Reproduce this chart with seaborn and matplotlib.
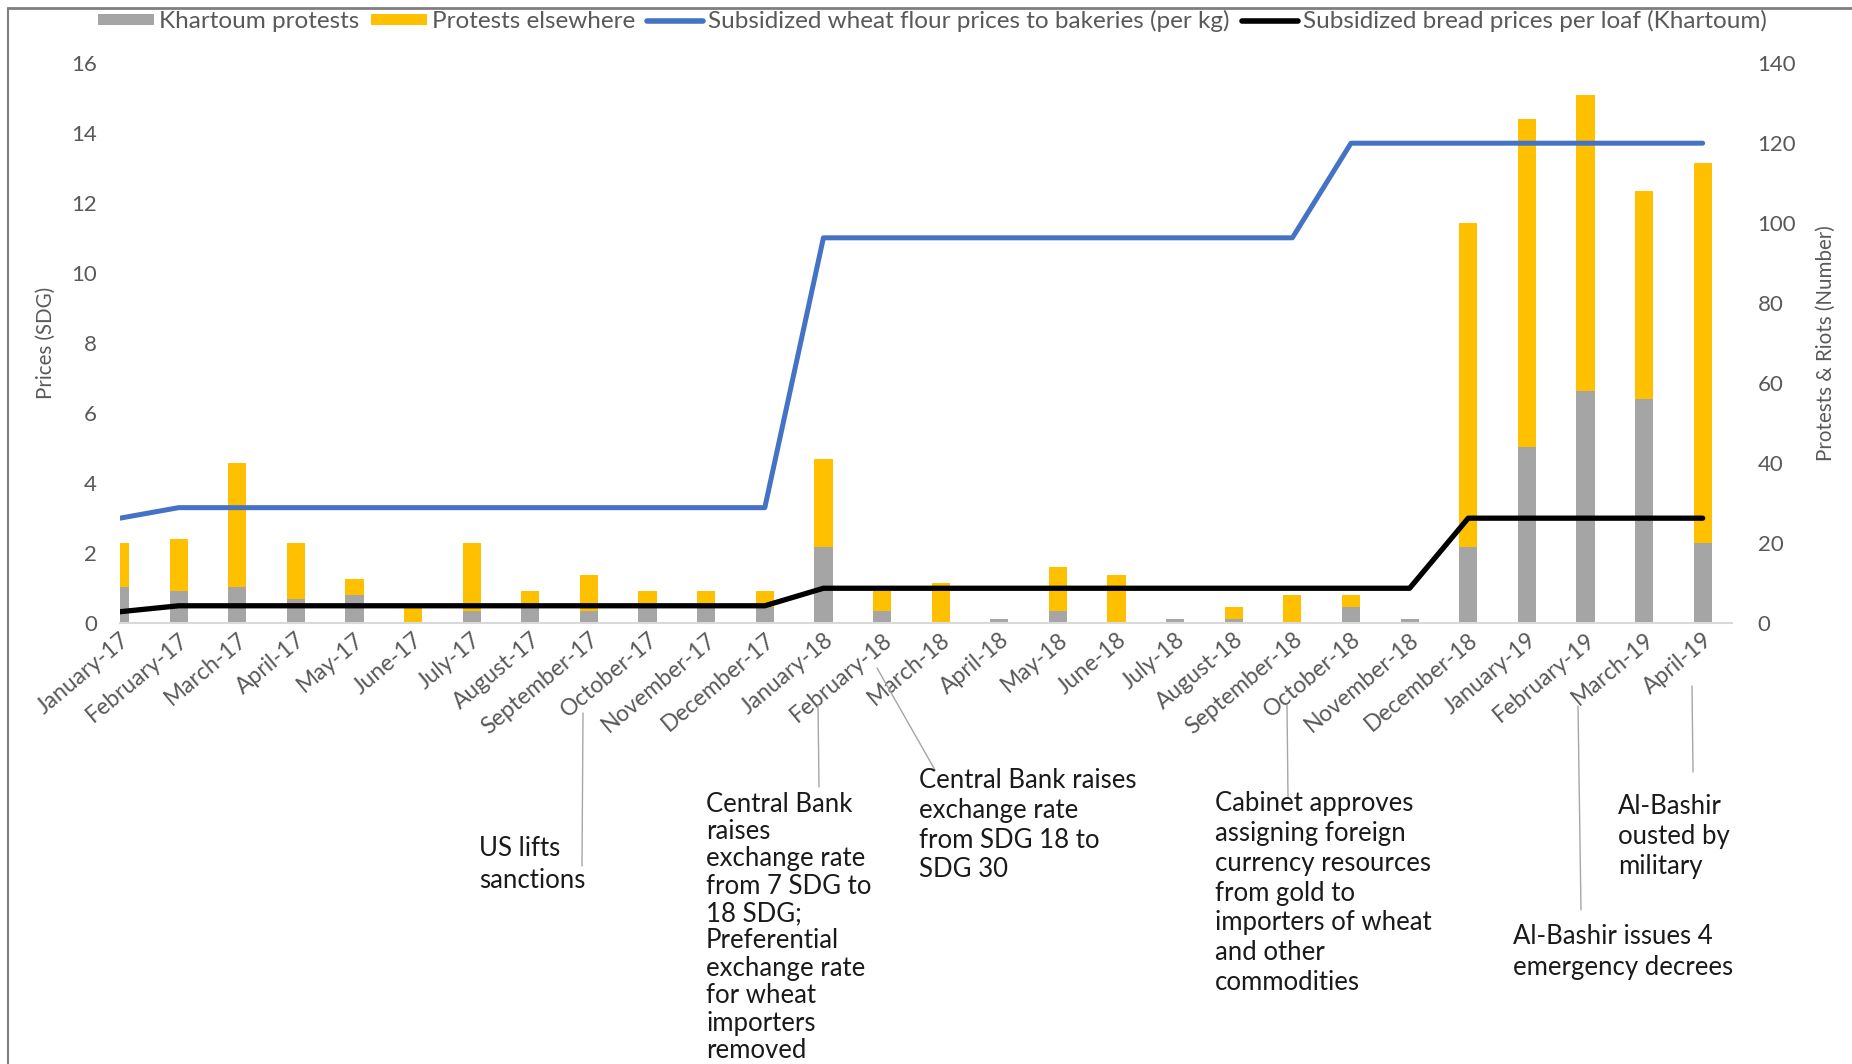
import numpy as np
import pandas as pd
import matplotlib
matplotlib.use("Agg")
import matplotlib.pyplot as plt
from matplotlib.lines import Line2D
from matplotlib.patches import Patch
import seaborn as sns

# ---- data -------------------------------------------------------------
months = [
    "January-17", "February-17", "March-17", "April-17", "May-17", "June-17",
    "July-17", "August-17", "September-17", "October-17", "November-17",
    "December-17", "January-18", "February-18", "March-18", "April-18",
    "May-18", "June-18", "July-18", "August-18", "September-18",
    "October-18", "November-18", "December-18", "January-19", "February-19",
    "March-19", "April-19",
]
khartoum_protests = [9, 8, 9, 6, 7, 0, 3, 4, 3, 4, 4, 4, 19, 3, 0, 1, 3, 0,
                     1, 1, 0, 4, 1, 19, 44, 58, 56, 20]
protests_elsewhere = [11, 13, 31, 14, 4, 4, 17, 4, 9, 4, 4, 4, 22, 5, 10, 0,
                      11, 12, 0, 3, 7, 3, 0, 81, 82, 74, 52, 95]
flour_price = [3.0] + [3.3] * 11 + [11.0] * 9 + [13.7] * 7
bread_price = [0.33] + [0.5] * 11 + [1.0] * 11 + [3.0] * 5

left_ticks = list(range(0, 17, 2))
right_ticks = list(range(0, 141, 20))

events = [
    (["US lifts", "sanctions"], (479, 849, 31), ((583, 713), (582, 866))),
    (["Central Bank", "raises", "exchange rate", "from 7 SDG to", "18 SDG;",
      "Preferential", "exchange rate", "for wheat", "importers", "removed"],
     (706, 804, 27.4), ((818, 705), (819, 787))),
    (["Central Bank raises", "exchange rate", "from SDG 18 to", "SDG 30"],
     (919, 781, 29.5), ((877, 668), (935, 770))),
    (["Cabinet approves", "assigning foreign", "currency resources",
      "from gold to", "importers of wheat", "and other", "commodities"],
     (1215, 804, 29.7), ((1287, 705), (1288, 797))),
    (["Al-Bashir issues 4", "emergency decrees"],
     (1513, 936, 31), ((1578, 706), (1581, 910))),
    (["Al-Bashir", "ousted by", "military"],
     (1618, 807, 29.6), ((1692, 686), (1693, 772))),
]

# ---- style ------------------------------------------------------------
GRAY = "#A5A5A5"
GOLD = "#FFC000"
BLUE = "#4472C4"
BLACK = "#000000"
TXT = "#595959"

sns.set_style("white")
plt.rcParams["font.family"] = ["Lato", "DejaVu Sans"]

W, H = 1852, 1064
fig = plt.figure(figsize=(W / 100, H / 100), dpi=100)
ax = fig.add_axes([120 / W, 1 - 623.3 / H, (1732 - 120) / W, (623.3 - 62.6) / H])
ax2 = ax.twinx()

df = pd.DataFrame({"month": months,
                   "khartoum": khartoum_protests,
                   "elsewhere": protests_elsewhere})
df["total"] = df["khartoum"] + df["elsewhere"]

# stacked bars: total first, Khartoum share drawn over its lower part
sns.barplot(data=df, x="month", y="total", order=months, color=GOLD,
            saturation=1, width=0.31, linewidth=0, errorbar=None, ax=ax)
sns.barplot(data=df, x="month", y="khartoum", order=months, color=GRAY,
            saturation=1, width=0.31, linewidth=0, errorbar=None, ax=ax)

ax.set_xlim(0, len(months) - 0.5)
ax.set_ylim(0, 140)
ax.set_yticks(right_ticks)
ax.yaxis.tick_right()
ax.yaxis.set_label_position("right")
ax.set_ylabel("Protests & Riots (Number)", fontsize=14.8, color=TXT,
              labelpad=14)
ax.set_xlabel("")
ax.set_xticks(range(len(months)))
ax.set_xticklabels(months, rotation=40, ha="right", va="top",
                   rotation_mode="anchor", fontsize=16.5, color=TXT)
ax.tick_params(axis="x", length=7, width=1.5, color="#D9D9D9", pad=-3)
ax.tick_params(axis="y", length=0, pad=18.5, labelsize=16, labelcolor=TXT,
               left=False, labelleft=False, right=True, labelright=True)
for side in ("top", "left", "right"):
    ax.spines[side].set_visible(False)
ax.spines["bottom"].set_color("#D9D9D9")
ax.spines["bottom"].set_linewidth(1.5)

# price lines on the left-hand scale
x_idx = np.arange(len(months))
sns.lineplot(x=x_idx, y=flour_price, ax=ax2, color=BLUE, linewidth=3.6,
             legend=False, solid_capstyle="round")
sns.lineplot(x=x_idx, y=bread_price, ax=ax2, color=BLACK, linewidth=3.8,
             legend=False, solid_capstyle="round")
ax2.set_ylim(0, 16)
ax2.set_yticks(left_ticks)
ax2.yaxis.tick_left()
ax2.yaxis.set_label_position("left")
ax2.set_ylabel("Prices (SDG)", fontsize=14.8, color=TXT, labelpad=11)
ax2.tick_params(axis="y", length=0, pad=16.5, labelsize=16, labelcolor=TXT,
                left=True, labelleft=True, right=False, labelright=False)
for s in ax2.spines.values():
    s.set_visible(False)
ax2.set_xlim(0, len(months) - 0.5)

# legend across the top
handles = [
    Patch(facecolor=GRAY, edgecolor="none"),
    Patch(facecolor=GOLD, edgecolor="none"),
    Line2D([], [], color=BLUE, linewidth=4),
    Line2D([], [], color=BLACK, linewidth=4),
]
labels = ["Khartoum protests", "Protests elsewhere",
          "Subsidized wheat flour prices to bakeries (per kg)",
          "Subsidized bread prices per loaf (Khartoum)"]
fig.legend(handles, labels, loc="center left",
           bbox_to_anchor=(98 / W, 1 - 21 / H), ncol=4, frameon=False,
           fontsize=17.5, labelcolor=TXT, handlelength=2.3, handleheight=0.3,
           handletextpad=0.2, columnspacing=0.5, borderpad=0,
           borderaxespad=0)

# overlay in pixel units for the frame and event notes
ov = fig.add_axes([0, 0, 1, 1])
ov.set_xlim(0, W)
ov.set_ylim(H, 0)
ov.axis("off")
ov.plot([8, W], [8, 8], color="#7F7F7F", linewidth=2)
ov.plot([8, 8], [8, H], color="#7F7F7F", linewidth=1.5)

for lines, (tx, ty, dy), (p0, p1) in events:
    ov.plot([p0[0], p1[0]], [p0[1], p1[1]], color="#A6A6A6", linewidth=1)
    for k, line in enumerate(lines):
        ov.text(tx, ty + k * dy, line, fontsize=18.5, color="#1A1A1A",
                ha="left", va="center")

fig.savefig("out.png", dpi=100)
